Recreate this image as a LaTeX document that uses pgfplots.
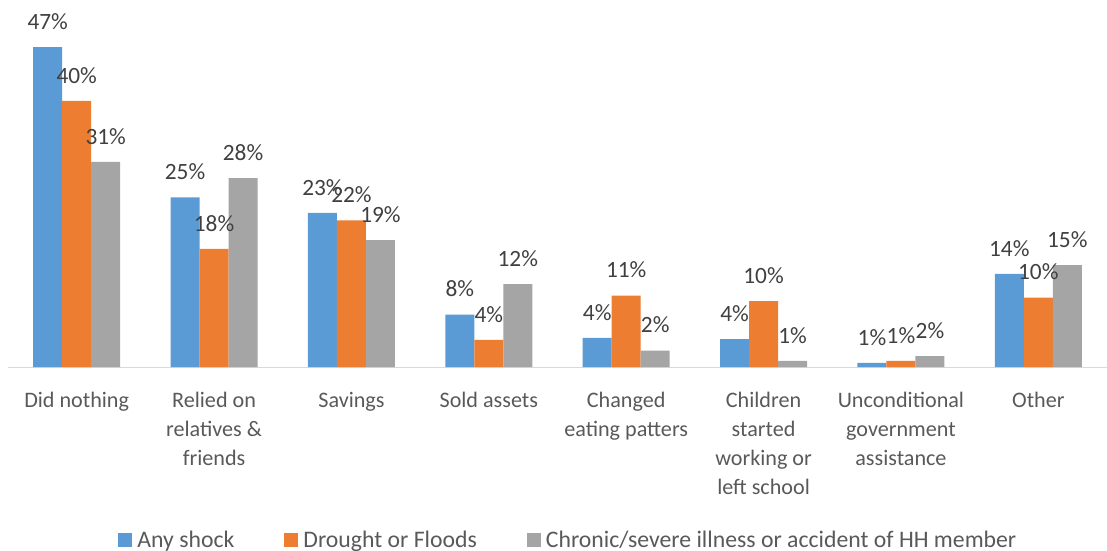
\documentclass[border=0pt]{standalone}
\usepackage{fontspec}
\setmainfont{Carlito}
\usepackage{pgfplots}
\pgfplotsset{compat=1.18}
\usepackage{pgfplotstable}
\definecolor{cA}{HTML}{5B9BD5}
\definecolor{cB}{HTML}{ED7D31}
\definecolor{cC}{HTML}{A5A5A5}
\definecolor{tickc}{HTML}{595959}
\definecolor{labc}{HTML}{404040}
\definecolor{axisc}{HTML}{D9D9D9}

\pgfplotstableread{
x y lab
0 47.1 47
1 25.0 25
2 22.7 23
3 7.7 8
4 4.3 4
5 4.1 4
6 0.6 1
7 13.7 14
}\anyshock
\pgfplotstableread{
x y lab
0 39.2 40
1 17.4 18
2 21.6 22
3 4.0 4
4 10.5 11
5 9.7 10
6 0.9 1
7 10.2 10
}\drought
\pgfplotstableread{
x y lab
0 30.2 31
1 27.8 28
2 18.7 19
3 12.2 12
4 2.4 2
5 0.9 1
6 1.6 2
7 15.0 15
}\chronic

\begin{document}
\begin{tikzpicture}
\begin{axis}[
  at={(6pt,137.25pt)}, anchor=south west,
  x=103.03pt, y=5.0925pt,
  xmin=-0.5, xmax=7.5, ymin=0, ymax=50,
  ybar=0pt, bar width=21.75pt,
  axis x line*=bottom, axis y line=none,
  x axis line style={draw=axisc, line width=0.75pt, -},
  xtick={0,...,7}, major tick length=0pt,
  xticklabels={Did nothing, {Relied on\\relatives \&\\friends}, Savings, Sold assets, {Changed\\eating patters}, {Children\\started\\working or\\left school}, {Unconditional\\government\\assistance}, Other},
  typeset ticklabels with strut,
  xticklabel style={align=center, font=\fontsize{16.6}{21.75}\selectfont, text=tickc, anchor=north, yshift=-11.4pt},
  ytick=\empty,
  clip=false,
  point meta=explicit,
  nodes near coords={\pgfmathprintnumber[fixed,precision=0,assume math mode=true]{\pgfplotspointmeta}\%},
  every node near coord/.append style={font=\fontsize{17.5}{21}\selectfont, text=labc, inner sep=0pt, yshift=13pt},
  legend columns=3,
  legend style={draw=none, fill=none, at={(0.509,-0.51)}, anchor=center,
    font=\fontsize{17.8}{21}\selectfont, text=tickc,
    nodes={inner xsep=0pt},
    /tikz/every odd column/.append style={column sep=0pt},
    /tikz/every even column/.append style={column sep=37.5pt}},
  legend image code/.code={\fill[#1] (0pt,-5.25pt) rectangle (10.5pt,5.25pt); \path (14.25pt,0pt);},
]
\addplot[fill=cA, draw=none] table[x=x, y=y, meta=lab] {\anyshock};
\addplot[fill=cB, draw=none] table[x=x, y=y, meta=lab] {\drought};
\addplot[fill=cC, draw=none] table[x=x, y=y, meta=lab] {\chronic};
\legend{Any shock, Drought or Floods, Chronic/severe illness or accident of HH member}
\end{axis}
\pgfresetboundingbox
\path[use as bounding box] (0,0) rectangle (830.25pt,412.5pt);
\end{tikzpicture}
\end{document}
